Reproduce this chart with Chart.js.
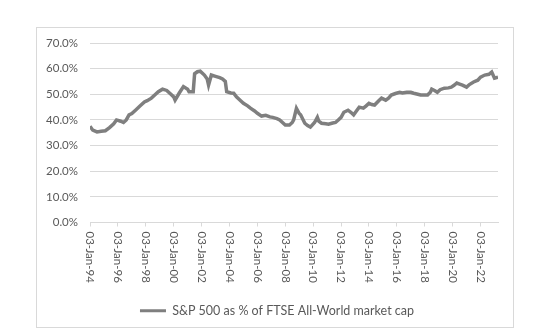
<!DOCTYPE html>
<html>
<head>
<meta charset="utf-8">
<script src="https://cdn.jsdelivr.net/npm/chart.js@4/dist/chart.umd.min.js"></script>
<style>
    body { margin: 0; background: #fff; }
    #box {
        position: absolute;
        left: 36px;
        top: 27px;
        width: 476px;
        height: 299px;
        border: 1px solid #d9d9d9;
    }
</style>
</head>
<body>
<div id="box"><canvas id="myChart" width="476" height="299"></canvas></div>
<script>
// S&P 500 share of FTSE All-World market cap (%), by decimal year
let dates = [
    1994.0, 1994.2, 1994.5, 1994.8, 1995.1, 1995.4, 1995.7, 1995.9, 1996.2, 1996.4,
    1996.6, 1996.8, 1997.0, 1997.3, 1997.6, 1997.9, 1998.1, 1998.4, 1998.7, 1998.9,
    1999.2, 1999.5, 1999.8, 2000.0, 2000.1, 2000.4, 2000.7, 2001.0, 2001.1, 2001.4,
    2001.5, 2001.7, 2001.9, 2002.2, 2002.4, 2002.5, 2002.7, 2003.0, 2003.3, 2003.5,
    2003.7, 2003.8, 2004.1, 2004.3, 2004.5, 2004.8, 2005.0, 2005.3, 2005.5, 2005.8,
    2006.0, 2006.3, 2006.6, 2006.9, 2007.1, 2007.4, 2007.6, 2007.8, 2008.0, 2008.3,
    2008.5, 2008.6, 2008.8, 2009.0, 2009.1, 2009.4, 2009.6, 2009.8, 2010.1, 2010.3,
    2010.4, 2010.6, 2010.9, 2011.1, 2011.4, 2011.6, 2011.8, 2012.0, 2012.2, 2012.5,
    2012.7, 2012.9, 2013.1, 2013.3, 2013.6, 2013.8, 2014.0, 2014.2, 2014.4, 2014.7,
    2014.9, 2015.2, 2015.4, 2015.6, 2015.9, 2016.2, 2016.4, 2016.7, 2017.0, 2017.2,
    2017.5, 2017.7, 2018.0, 2018.2, 2018.4, 2018.5, 2018.7, 2018.9, 2019.1, 2019.4,
    2019.7, 2019.9, 2020.1, 2020.3, 2020.5, 2020.7, 2021.0, 2021.2, 2021.5, 2021.8,
    2022.0, 2022.3, 2022.6, 2022.8, 2023.0, 2023.25
];
let shares = [
    37.5, 36.0, 35.3, 35.6, 35.8, 37.0, 38.5, 40.0, 39.5, 39.0,
    40.0, 42.0, 42.5, 44.0, 45.5, 47.0, 47.5, 48.5, 50.0, 51.0,
    52.0, 51.5, 50.0, 49.0, 47.7, 50.5, 53.0, 52.0, 51.0, 51.0,
    58.0, 58.8, 59.0, 57.5, 56.0, 53.6, 57.5, 57.0, 56.5, 56.0,
    55.0, 51.0, 50.5, 50.4, 49.0, 47.5, 46.5, 45.5, 44.6, 43.5,
    42.6, 41.5, 41.8, 41.2, 41.0, 40.5, 40.0, 39.0, 38.0, 38.0,
    39.0, 40.0, 44.5, 42.5, 42.0, 38.7, 37.8, 37.2, 39.0, 41.0,
    39.5, 38.7, 38.5, 38.3, 38.8, 39.0, 40.0, 41.0, 43.0, 43.8,
    43.0, 42.0, 43.5, 45.0, 44.6, 45.5, 46.5, 46.0, 45.8, 47.5,
    48.5, 47.7, 48.5, 49.7, 50.3, 50.8, 50.5, 50.8, 50.8, 50.4,
    50.0, 49.7, 49.7, 49.7, 50.8, 52.0, 51.5, 50.8, 51.8, 52.4,
    52.5, 52.8, 53.5, 54.4, 54.0, 53.6, 52.8, 53.8, 54.8, 55.5,
    56.7, 57.5, 57.8, 58.7, 56.3, 56.7
];
let tickYears = [1994, 1996, 1998, 2000, 2002, 2004, 2006, 2008, 2010, 2012, 2014, 2016, 2018, 2020, 2022];
let seriesName = "S&P 500 as % of FTSE All-World market cap";

let fontFamily = "Lato, 'Open Sans', sans-serif",
    textColor = "#595959",
    gridColor = "#d9d9d9",
    lineColor = "#7f7f7f";

function dateLabel(year) {
    return "03-Jan-" + String(year % 100).padStart(2, "0");
}

// x labels read top to bottom, like the spreadsheet export
let verticalLabels = {
    id: "verticalLabels",
    afterLayout(chart) {
        // centre the legend under the plot rather than the whole canvas
        chart.legend.left = 19;
    },
    afterDraw(chart) {
        let ctx = chart.ctx,
            xScale = chart.scales.x;
        ctx.save();
        ctx.font = "11.5px " + fontFamily;
        ctx.fillStyle = textColor;
        ctx.textAlign = "left";
        ctx.textBaseline = "middle";
        tickYears.forEach(function (yr) {
            ctx.save();
            ctx.translate(xScale.getPixelForValue(yr), chart.chartArea.bottom + 9);
            ctx.rotate(Math.PI / 2);
            ctx.fillText(dateLabel(yr), 0, 0);
            ctx.restore();
        });
        ctx.restore();
    }
};

let points = dates.map(function (d, i) {
    return { x: d, y: shares[i] };
});

new Chart(document.getElementById("myChart"), {
    type: "line",
    data: {
        datasets: [{
            label: seriesName,
            data: points,
            borderColor: lineColor,
            backgroundColor: lineColor,
            borderWidth: 3.5,
            pointRadius: 0,
            tension: 0
        }]
    },
    options: {
        responsive: false,
        animation: false,
        layout: { padding: { top: 15, right: 15, left: 0, bottom: 0 } },
        plugins: {
            tooltip: { enabled: false },
            legend: {
                position: "bottom",
                labels: {
                    boxWidth: 26,
                    boxHeight: 3,
                    padding: 10,
                    color: textColor,
                    font: { family: fontFamily, size: 12.5 },
                    // flat swatch, no outline round it
                    generateLabels: function (chart) {
                        let items = Chart.defaults.plugins.legend.labels.generateLabels(chart);
                        items.forEach(function (it) { it.lineWidth = 0; });
                        return items;
                    }
                }
            }
        },
        scales: {
            x: {
                type: "linear",
                min: 1994,
                max: 2023.25,
                afterBuildTicks: function (scale) {
                    scale.ticks = tickYears.map(function (v) { return { value: v }; });
                },
                afterFit: function (scale) { scale.height = 72; },
                ticks: { display: false },
                grid: {
                    drawOnChartArea: false,
                    drawTicks: true,
                    tickLength: 4,
                    color: gridColor
                },
                border: { display: true, color: gridColor }
            },
            y: {
                min: 0,
                max: 70,
                afterFit: function (scale) { scale.width = 53; },
                ticks: {
                    stepSize: 10,
                    padding: 3,
                    color: textColor,
                    font: { family: fontFamily, size: 11.5 },
                    callback: function (v) { return v.toFixed(1) + "%"; }
                },
                // invisible tick marks keep the labels clear of the plot
                grid: { color: gridColor, drawTicks: true, tickLength: 9, tickColor: "rgba(0,0,0,0)" },
                border: { display: false }
            }
        }
    },
    plugins: [verticalLabels]
});
</script>
</body>
</html>
